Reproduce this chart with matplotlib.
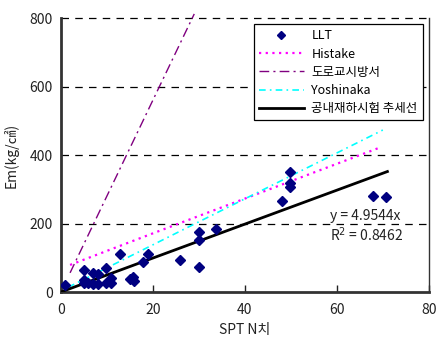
import matplotlib
matplotlib.use("Agg")
import matplotlib.pyplot as plt

plt.rcParams['font.family'] = ['Noto Sans CJK KR', 'DejaVu Sans']

# LLT measured points
llt_x = [0.9, 5.1, 5.1, 5.0, 5.9, 6.9, 8.0, 6.9, 8.0, 9.8, 9.8, 11.0, 11.0, 12.9,
         15.0, 15.7, 16.0, 17.9, 19.0, 25.9, 30.0, 30.0, 30.0, 33.8, 48.0,
         49.8, 49.8, 49.8, 67.9, 70.8]
llt_y = [20, 64, 35, 27, 25, 55, 52, 22, 23, 69, 25, 40, 25, 111,
         37, 43, 33, 88, 110, 92, 176, 152, 72, 184, 267,
         351, 317, 307, 281, 278]

histake_x = [2, 17.2, 69]
histake_y = [79, 157, 420]
road_x = [2, 29]
road_y = [56, 812]
yoshi_x = [1.6, 30, 70]
yoshi_y = [14, 205, 473]
trend_x = [0, 71]
trend_y = [0, 351.8]

xticks = [0, 20, 40, 60, 80]
yticks = [0, 200, 400, 600, 800]

fig = plt.figure(figsize=(4.38, 3.47), dpi=100)
ax = fig.add_axes([0.139, 0.1585, 0.840, 0.7895])

ax.set_xlim(0, 80)
ax.set_ylim(0, 800)

for g in [200, 400, 600, 800]:
    ax.axhline(g, color='black', lw=0.9, ls=(0, (6, 5)), zorder=1, clip_on=False)

ax.plot(histake_x, histake_y, color='#FF00FF', lw=1.6, ls=(0, (1, 2)), label='Histake', zorder=3)
ax.plot(road_x, road_y, color='#800080', lw=1.0, ls=(0, (7, 3, 1.5, 3)), label='도로교시방서',
        zorder=3, clip_on=False)
ax.plot(yoshi_x, yoshi_y, color='#00FFFF', lw=1.2, ls=(0, (4, 2.5, 1, 2.5)), label='Yoshinaka', zorder=3)
ax.plot(trend_x, trend_y, color='black', lw=2.0, label='공내재하시험 추세선', zorder=4)
ax.plot(llt_x, llt_y, ls='none', marker='D', markersize=5.5, color='#000080', label='LLT', zorder=5)

ax.spines['top'].set_visible(False)
ax.spines['left'].set_linewidth(2.0)
ax.spines['bottom'].set_linewidth(2.0)
ax.spines['left'].set_color('#333333')
ax.spines['bottom'].set_color('#333333')
ax.spines['right'].set_linewidth(1.0)
ax.spines['right'].set_color('#333333')

ax.set_xticks(xticks)
ax.set_yticks(yticks)
ax.tick_params(axis='x', direction='in', length=5, width=1, labelsize=10, pad=8, colors='#222222')
ax.tick_params(axis='y', direction='in', length=0, labelsize=10, pad=6, colors='#222222')

ax.set_xlabel('SPT N치', fontsize=10, color='#222222', labelpad=4)
ax.set_ylabel('Em(kg/㎠)', fontsize=10, color='#222222', labelpad=8)

handles, labels = ax.get_legend_handles_labels()
order = [4, 0, 1, 2, 3]
leg = ax.legend([handles[i] for i in order], [labels[i] for i in order],
                loc='upper right', fontsize=9, frameon=True, fancybox=False,
                edgecolor='black', framealpha=1, borderaxespad=0.5,
                handlelength=3.6, labelspacing=0.42, borderpad=0.4, handletextpad=0.6,
                markerscale=0.8)
leg.get_frame().set_linewidth(0.9)

ax.text(58.5, 222, 'y = 4.9544x', fontsize=10, va='center', ha='left', color='#222222')
ax.text(58.5, 166, 'R$^2$ = 0.8462', fontsize=10, va='center', ha='left', color='#222222')

fig.savefig('out.png', dpi=100)
